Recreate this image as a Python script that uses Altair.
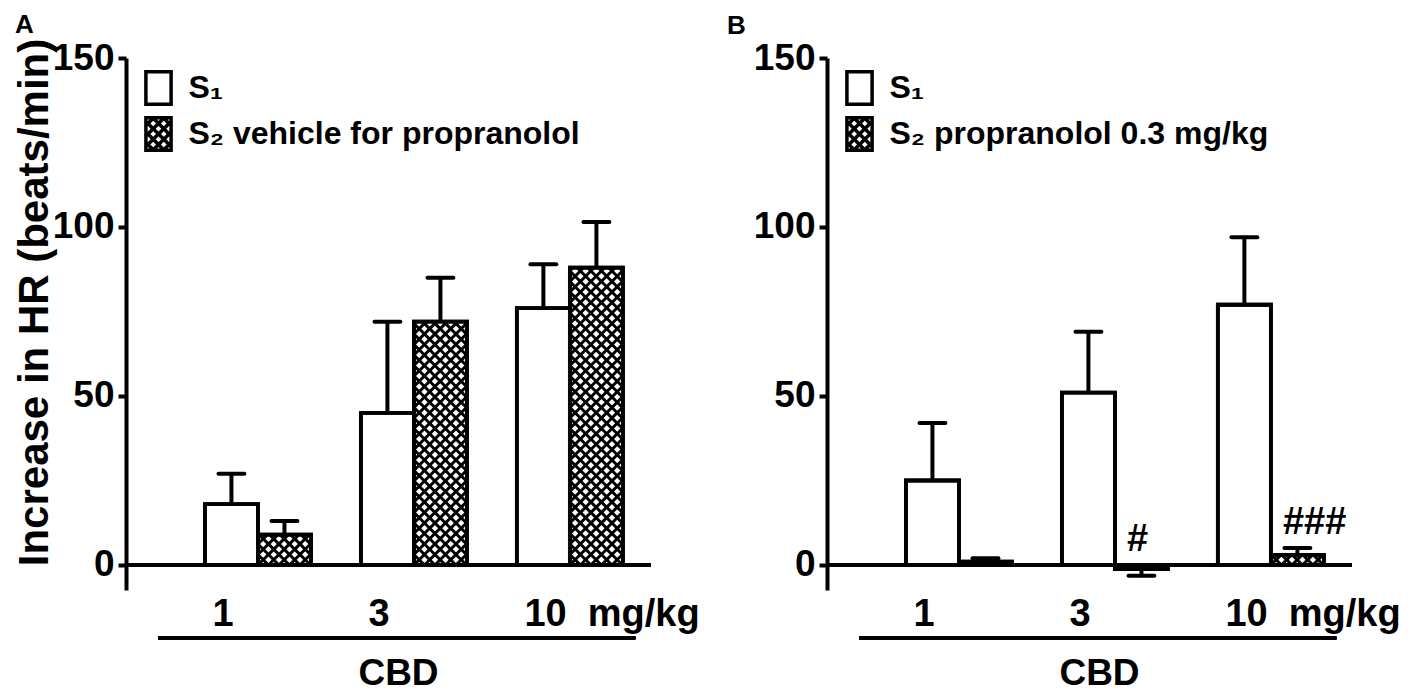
import altair as alt
import numpy as np
import pandas as pd

# ---------------- data ----------------
doses = ["1", "3", "10"]
dose_unit = "mg/kg"
series = ["S1", "S2"]

a_s1 = [18, 45, 76]
a_s1_err = [9, 27, 13]
a_s2 = [9, 72, 88]
a_s2_err = [4, 13, 13.5]

b_s1 = [25, 51, 77]
b_s1_err = [17, 18, 20]
b_s2 = [1, -1.2, 3]
b_s2_err = [1, 2, 2]
b_s2_marks = ["", "#", "###"]

legend_a = ["S\u2081", "S\u2082 vehicle for propranolol"]
legend_b = ["S\u2081", "S\u2082 propranolol 0.3 mg/kg"]

y_title = "Increase in HR (beats/min)"
x_title = "CBD"
y_ticks = [0, 50, 100, 150]

# ---------------- style / layout ----------------
FONT = "Liberation Sans"
W, H = 525, 532
XMIN, XMAX = -0.846, 2.52
YMIN, YMAX = -7.4, 150
BW = 0.34          # bar width (group units)
CAPH = 0.083       # half cap width
PX_X = W / (XMAX - XMIN)
PX_Y = H / (YMAX - YMIN)
HATCH = 10.5       # hatch spacing in px


def bar_frame(s1, s1e, s2, s2e):
    rows = []
    for gi, d in enumerate(doses):
        for si, (vals, errs) in enumerate([(s1, s1e), (s2, s2e)]):
            v, e = vals[gi], errs[gi]
            x0 = gi - BW if si == 0 else gi
            x1 = x0 + BW
            sgn = 1 if v >= 0 else -1
            rows.append(dict(dose=d, series=series[si], v=v, x0=x0, x1=x1,
                             xc=(x0 + x1) / 2, top=v + sgn * e,
                             cl=(x0 + x1) / 2 - CAPH, cr=(x0 + x1) / 2 + CAPH))
    return pd.DataFrame(rows)


def hatch_frame(bars):
    out = []
    for _, r in bars[bars.series == "S2"].iterrows():
        w = (r.x1 - r.x0) * PX_X
        h = abs(r.v) * PX_Y
        sgn = 1 if r.v >= 0 else -1
        kmax = int((w + h) / HATCH) + 2
        segs = []
        for k in range(-kmax, kmax + 1):
            c = k * HATCH
            xa, xb = max(0.0, -c), min(w, h - c)          # y = x + c
            if xb > xa:
                segs.append((xa, xa + c, xb, xb + c))
            xa, xb = max(0.0, c - h), min(w, c)           # y = -x + c
            if xb > xa:
                segs.append((xa, c - xa, xb, c - xb))
        for (xa, ya, xb, yb) in segs:
            out.append(dict(hx=r.x0 + xa / PX_X, hy=sgn * ya / PX_Y,
                            hx2=r.x0 + xb / PX_X, hy2=sgn * yb / PX_Y))
    return pd.DataFrame(out)


def legend_paths():
    hx, hy = 0.7, 0.9
    rect = f"M{-hx},{-hy}H{hx}V{hy}H{-hx}Z"
    s = HATCH / 18.0
    parts = [rect]
    for k in range(-6, 7):
        c = k * s
        xa, xb = max(-hx, -hy - c), min(hx, hy - c)
        if xb > xa:
            parts.append(f"M{xa:.3f},{xa + c:.3f}L{xb:.3f},{xb + c:.3f}")
        xa, xb = max(-hx, c - hy), min(hx, c + hy)
        if xb > xa:
            parts.append(f"M{xa:.3f},{c - xa:.3f}L{xb:.3f},{c - xb:.3f}")
    return [rect, "".join(parts)]


label_list = doses[:-1] + [doses[-1] + "\u00a0\u00a0" + dose_unit]
label_expr = "[" + ",".join("'" + l + "'" for l in label_list) + "][datum.value]"

xscale = alt.Scale(domain=[XMIN, XMAX], nice=False, zero=False)
yscale = alt.Scale(domain=[YMIN, YMAX], nice=False, zero=False)

xaxis = alt.Axis(values=list(range(len(doses))), labelExpr=label_expr,
                 domain=False, ticks=False, grid=False, labelAlign="left",
                 labelOffset=-46, labelPadding=5, labelFontSize=38,
                 labelFont=FONT, labelFontWeight="bold", labelColor="black",
                 labelOverlap=False, labelFlush=False,
                 title=x_title, titleFontSize=37, titleFont=FONT,
                 titleFontWeight="bold", titleColor="black", titleX=272, titleY=65)


def yaxis(title):
    kw = dict(values=y_ticks, grid=False, domainColor="black", domainWidth=4,
              tickColor="black", tickWidth=4, tickSize=8, labelPadding=4,
              labelFontSize=37, labelFont=FONT, labelFontWeight="bold",
              labelColor="black")
    if title:
        kw.update(title=title, titleFontSize=42, titleFont=FONT,
                  titleFontWeight="bold", titleColor="black",
                  titleX=-70, titleY=244)
    else:
        kw.update(title=None)
    return alt.Axis(**kw)


def panel(letter, letter_dx, s1, s1e, s2, s2e, legend_labels, title, marks=None):
    bars = bar_frame(s1, s1e, s2, s2e)
    hatch = hatch_frame(bars)
    ya = yaxis(title)

    def X(f):
        return alt.X(f, type="quantitative", scale=xscale, axis=xaxis)

    def Y(f):
        return alt.Y(f, type="quantitative", scale=yscale, axis=ya)

    base = alt.Chart(bars)
    rect = base.mark_rect(fill="white", stroke="black", strokeWidth=3.8).encode(
        x=X("x0"), x2="x1", y=Y("v"), y2=alt.Y2(datum=0))
    hat = alt.Chart(hatch).mark_rule(color="black", strokeWidth=3).encode(
        x=X("hx"), x2="hx2", y=Y("hy"), y2="hy2")
    outline = base.mark_rect(fillOpacity=0, stroke="black", strokeWidth=3.8).encode(
        x=X("x0"), x2="x1", y=Y("v"), y2=alt.Y2(datum=0))
    err = base.mark_rule(color="black", strokeWidth=4).encode(
        x=X("xc"), y=Y("v"), y2="top")
    cap = base.mark_rule(color="black", strokeWidth=4, strokeCap="round").encode(
        x=X("cl"), x2="cr", y=Y("top"))
    baseline = alt.Chart(bars).mark_rule(color="black", strokeWidth=4).encode(
        y=alt.Y(datum=0, type="quantitative", scale=yscale, axis=ya))
    underline = alt.Chart(bars).mark_rule(color="black", strokeWidth=3, clip=False).encode(
        x=alt.X(datum=0 - 0.64, type="quantitative", scale=xscale, axis=xaxis),
        x2=alt.X2(datum=len(doses) - 1 + 0.42),
        y=alt.value(580))
    leg_df = pd.DataFrame({"label": legend_labels})
    legend_layer = alt.Chart(leg_df).mark_point(
        filled=True, fill="white", stroke="black", strokeWidth=3.5,
        size=1296, opacity=1).encode(
        shape=alt.Shape("label:N",
                        scale=alt.Scale(domain=legend_labels, range=legend_paths()),
                        legend=alt.Legend(title=None, orient="none", legendX=12.5,
                                          legendY=10, labelFontSize=32, labelFont=FONT,
                                          labelFontWeight="bold", labelColor="black",
                                          labelLimit=2000, labelOffset=10,
                                          rowPadding=-2, symbolSize=1296,
                                          symbolStrokeWidth=3.5, padding=0))
    ).transform_filter("false")

    layers = [rect, hat, outline, err, cap, baseline, underline, legend_layer]
    if marks is not None:
        bars2 = bars[bars.series == "S2"].copy()
        bars2["mark"] = marks
        bars2["ty"] = bars2[["v", "top"]].max(axis=1).clip(lower=0)
        txt = alt.Chart(bars2).mark_text(align="left", baseline="bottom", dx=12, dy=-6,
                                         fontSize=38, font=FONT, fontWeight="bold",
                                         color="black").encode(
            x=X("x0"), y=Y("ty"), text="mark:N")
        layers.append(txt)

    return alt.layer(*layers).properties(
        width=W, height=H,
        title=alt.TitleParams(letter, anchor="start", frame="group", dx=letter_dx,
                              fontSize=26, font=FONT, fontWeight="bold",
                              color="black", offset=0))


pa = panel("A", -111, a_s1, a_s1_err, a_s2, a_s2_err, legend_a, y_title)
pb = panel("B", -100, b_s1, b_s1_err, b_s2, b_s2_err, legend_b, None, marks=b_s2_marks)

chart = alt.hconcat(pa, pb, spacing=176, bounds="flush").resolve_scale(
    shape="independent", x="independent", y="independent").resolve_legend(
    shape="independent").properties(
    padding={"left": 4, "top": 4, "right": 0, "bottom": 0}).configure(
    font=FONT, background="white").configure_view(stroke=None)

chart.save("out.html", embed_options={"renderer": "svg", "actions": False})
